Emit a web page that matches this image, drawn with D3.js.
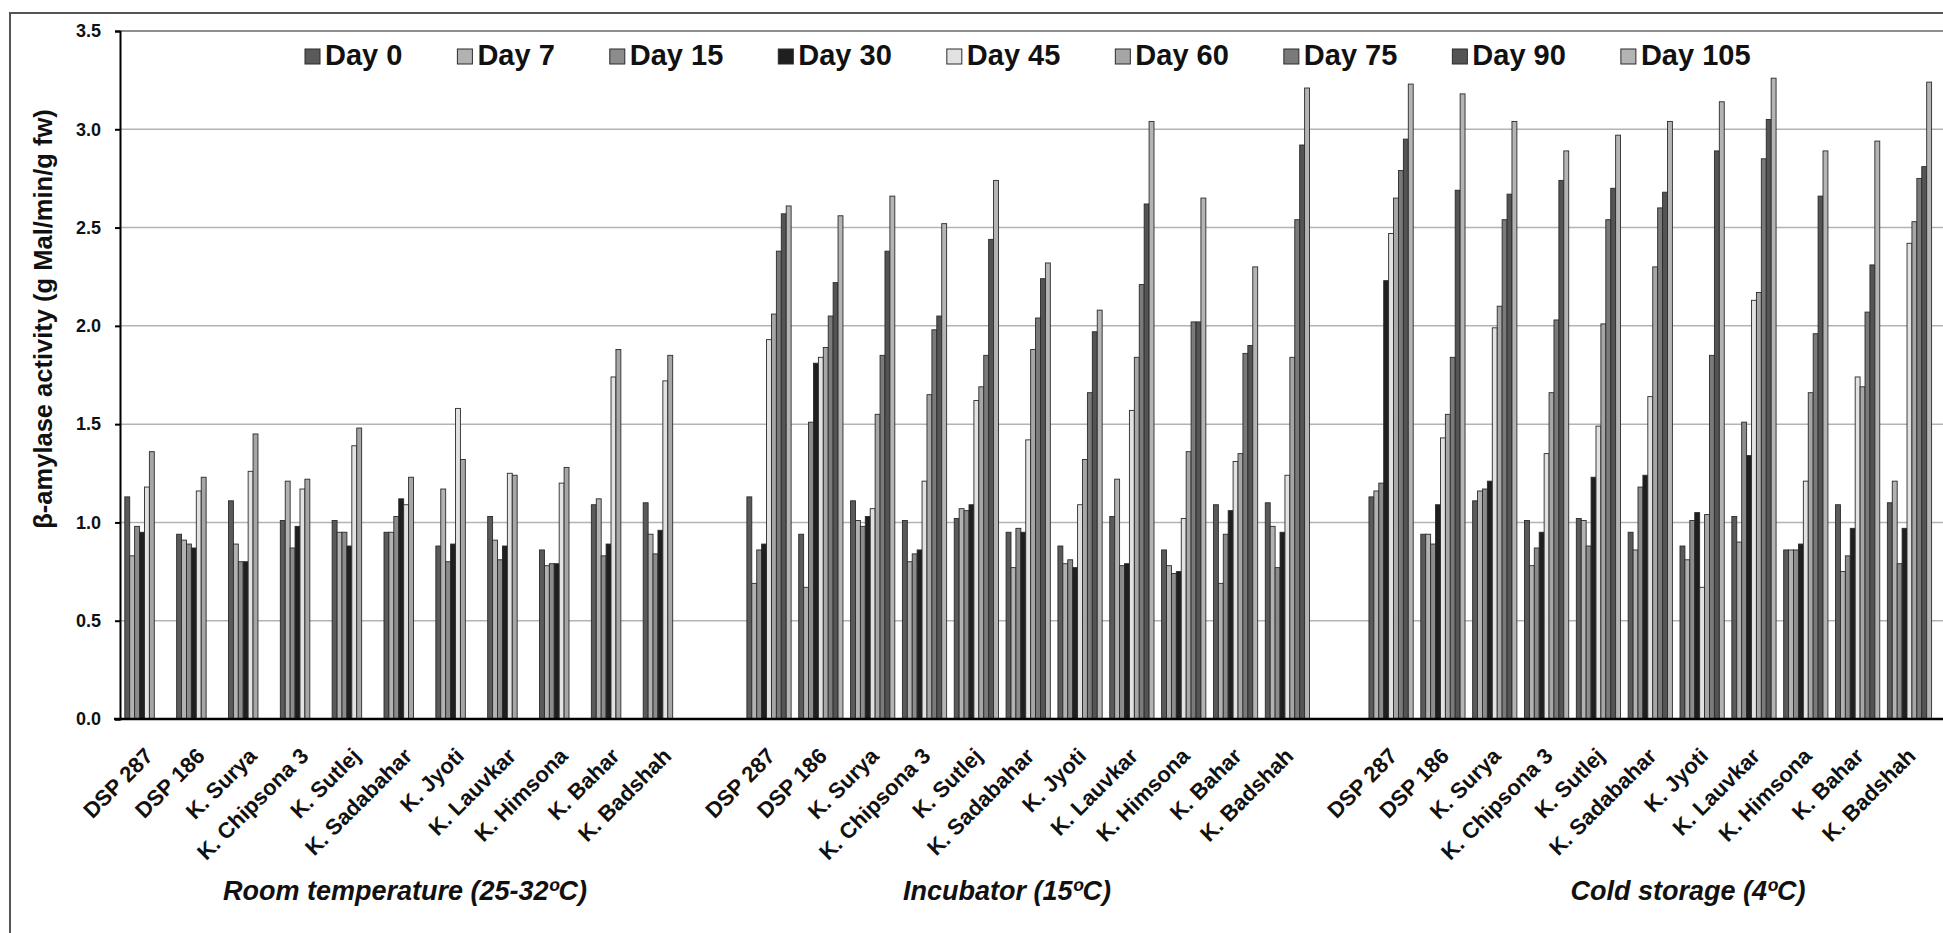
<!DOCTYPE html>
<html>
<head>
<meta charset="utf-8">
<script src="https://cdn.jsdelivr.net/npm/d3@7"></script>
<style>
  html, body { margin: 0; padding: 0; background: #fff; overflow: hidden; }
  svg { display: block; }
</style>
</head>
<body>
<svg id="chart" width="1943" height="933"></svg>
<script>
// ---------------- DATA ----------------
const varieties = ["DSP 287", "DSP 186", "K. Surya", "K. Chipsona 3", "K. Sutlej", "K. Sadabahar",
                   "K. Jyoti", "K. Lauvkar", "K. Himsona", "K. Bahar", "K. Badshah"];
const days = ["Day 0", "Day 7", "Day 15", "Day 30", "Day 45", "Day 60", "Day 75", "Day 90", "Day 105"];
const conditions = ["Room temperature (25-32ºC)", "Incubator (15ºC)", "Cold storage (4ºC)"];
const yTicks = [0, 0.5, 1.0, 1.5, 2.0, 2.5, 3.0, 3.5];
const yLabel = "β-amylase activity (g Mal/min/g fw)";

// Room temperature: Day 0 .. Day 60 only
const roomTemp = [
  [1.13, 0.83, 0.98, 0.95, 1.18, 1.36],
  [0.94, 0.91, 0.89, 0.87, 1.16, 1.23],
  [1.11, 0.89, 0.80, 0.80, 1.26, 1.45],
  [1.01, 1.21, 0.87, 0.98, 1.17, 1.22],
  [1.01, 0.95, 0.95, 0.88, 1.39, 1.48],
  [0.95, 0.95, 1.03, 1.12, 1.09, 1.23],
  [0.88, 1.17, 0.80, 0.89, 1.58, 1.32],
  [1.03, 0.91, 0.81, 0.88, 1.25, 1.24],
  [0.86, 0.78, 0.79, 0.79, 1.20, 1.28],
  [1.09, 1.12, 0.83, 0.89, 1.74, 1.88],
  [1.10, 0.94, 0.84, 0.96, 1.72, 1.85]
];
const incubator = [
  [1.13, 0.69, 0.86, 0.89, 1.93, 2.06, 2.38, 2.57, 2.61],
  [0.94, 0.67, 1.51, 1.81, 1.84, 1.89, 2.05, 2.22, 2.56],
  [1.11, 1.01, 0.98, 1.03, 1.07, 1.55, 1.85, 2.38, 2.66],
  [1.01, 0.80, 0.84, 0.86, 1.21, 1.65, 1.98, 2.05, 2.52],
  [1.02, 1.07, 1.06, 1.09, 1.62, 1.69, 1.85, 2.44, 2.74],
  [0.95, 0.77, 0.97, 0.95, 1.42, 1.88, 2.04, 2.24, 2.32],
  [0.88, 0.79, 0.81, 0.77, 1.09, 1.32, 1.66, 1.97, 2.08],
  [1.03, 1.22, 0.78, 0.79, 1.57, 1.84, 2.21, 2.62, 3.04],
  [0.86, 0.78, 0.74, 0.75, 1.02, 1.36, 2.02, 2.02, 2.65],
  [1.09, 0.69, 0.94, 1.06, 1.31, 1.35, 1.86, 1.90, 2.30],
  [1.10, 0.98, 0.77, 0.95, 1.24, 1.84, 2.54, 2.92, 3.21]
];
const coldStorage = [
  [1.13, 1.16, 1.20, 2.23, 2.47, 2.65, 2.79, 2.95, 3.23],
  [0.94, 0.94, 0.89, 1.09, 1.43, 1.55, 1.84, 2.69, 3.18],
  [1.11, 1.16, 1.17, 1.21, 1.99, 2.10, 2.54, 2.67, 3.04],
  [1.01, 0.78, 0.87, 0.95, 1.35, 1.66, 2.03, 2.74, 2.89],
  [1.02, 1.01, 0.88, 1.23, 1.49, 2.01, 2.54, 2.70, 2.97],
  [0.95, 0.86, 1.18, 1.24, 1.64, 2.30, 2.60, 2.68, 3.04],
  [0.88, 0.81, 1.01, 1.05, 0.67, 1.04, 1.85, 2.89, 3.14],
  [1.03, 0.90, 1.51, 1.34, 2.13, 2.17, 2.85, 3.05, 3.26],
  [0.86, 0.86, 0.86, 0.89, 1.21, 1.66, 1.96, 2.66, 2.89],
  [1.09, 0.75, 0.83, 0.97, 1.74, 1.69, 2.07, 2.31, 2.94],
  [1.10, 1.21, 0.79, 0.97, 2.42, 2.53, 2.75, 2.81, 3.24]
];
const conditionValues = [roomTemp, incubator, coldStorage];

// ---------------- STYLE ----------------
const dayColors = ["#5a5a5a", "#b2b2b2", "#8c8c8c", "#1f1f1f", "#e2e2e2", "#a6a6a6", "#7a7a7a", "#545454", "#b4b4b4"];
const FONT = "'Liberation Sans', Arial, sans-serif";

// ---------------- LAYOUT ----------------
const svg = d3.select("#chart");
const plotLeft = 121, plotTop = 31, plotBottom = 719;
const pitch = 51.84;
const halfGap = 3.8;

// category slots: 11 varieties + one blank slot per storage condition
const slots = [];
conditions.forEach((c, ci) => {
  varieties.forEach((v, vi) => slots.push({key: ci + "|" + vi, label: v}));
  slots.push({key: ci + "|blank", label: ""});
});

const x0 = d3.scaleBand().domain(slots.map(s => s.key))
  .range([plotLeft, plotLeft + slots.length * pitch]).paddingInner(0).paddingOuter(0);
const x1 = d3.scaleBand().domain(days).range([halfGap, pitch - halfGap]).padding(0);
const y = d3.scaleLinear().domain([0, 3.5]).range([plotBottom, plotTop]);

// outer frame
svg.append("rect").attr("x", 10).attr("y", 13).attr("width", 2100).attr("height", 1100)
  .attr("fill", "none").attr("stroke", "#555").attr("stroke-width", 2);

// gridlines
svg.append("g").selectAll("line").data(yTicks.filter(t => t > 0)).join("line")
  .attr("x1", plotLeft).attr("x2", 2000)
  .attr("y1", d => y(d)).attr("y2", d => y(d))
  .attr("stroke", d => d === 3.5 ? "#6a6a6a" : "#b3b3b3")
  .attr("stroke-width", 1.5);

// bars
const barData = [];
conditionValues.forEach((rows, ci) => {
  rows.forEach((vals, vi) => {
    vals.forEach((v, di) => {
      if (v != null) barData.push({ci, vi, di, v});
    });
  });
});
svg.append("g").selectAll("rect").data(barData).join("rect")
  .attr("x", d => x0(d.ci + "|" + d.vi) + x1(days[d.di]))
  .attr("width", x1.bandwidth())
  .attr("y", d => y(d.v))
  .attr("height", d => y(0) - y(d.v))
  .attr("fill", d => dayColors[d.di])
  .attr("stroke", "#2b2b2b")
  .attr("stroke-width", 0.9);

// y axis
const yAxis = svg.append("g").attr("transform", `translate(120,0)`)
  .call(d3.axisLeft(y).tickValues(yTicks).tickFormat(d3.format(".1f")).tickSize(5).tickPadding(14));
yAxis.select(".domain").attr("stroke", "#000").attr("stroke-width", 2);
yAxis.selectAll(".tick line").attr("stroke", "#000").attr("stroke-width", 2);
yAxis.selectAll(".tick text").attr("font-family", FONT).attr("font-weight", "bold")
  .attr("font-size", 18).attr("fill", "#111");

// x axis (category labels)
const labelOf = Object.fromEntries(slots.map(s => [s.key, s.label]));
const xAxis = svg.append("g").attr("transform", `translate(0,${plotBottom})`)
  .call(d3.axisBottom(x0).tickFormat(k => labelOf[k]).tickSize(0));
xAxis.select(".domain").remove();
xAxis.selectAll(".tick text")
  .attr("font-family", FONT).attr("font-weight", "bold").attr("font-size", 22).attr("fill", "#111")
  .attr("text-anchor", "end").attr("x", 0).attr("y", 0).attr("dy", "0.35em")
  .attr("transform", "translate(2,33) rotate(-45)");
svg.append("line").attr("x1", 114).attr("x2", 2000).attr("y1", plotBottom).attr("y2", plotBottom)
  .attr("stroke", "#000").attr("stroke-width", 2.5);

// y axis title
svg.append("text").attr("transform", "translate(43,319) rotate(-90)")
  .attr("text-anchor", "middle").attr("dy", "0.35em")
  .attr("font-family", FONT).attr("font-weight", "bold").attr("font-size", 25.5).attr("fill", "#111")
  .text(yLabel);

// storage condition labels
const condCenters = [405, 1007, 1688];
svg.append("g").selectAll("text").data(conditions).join("text")
  .attr("x", (d, i) => condCenters[i]).attr("y", 900)
  .attr("text-anchor", "middle")
  .attr("font-family", FONT).attr("font-weight", "bold").attr("font-style", "italic")
  .attr("font-size", 27).attr("fill", "#111")
  .text(d => d);

// legend
const legend = svg.append("g");
let lx = 305;
days.forEach((d, i) => {
  legend.append("rect").attr("x", lx).attr("y", 49).attr("width", 15).attr("height", 15)
    .attr("fill", dayColors[i]).attr("stroke", "#2b2b2b").attr("stroke-width", 1);
  const t = legend.append("text").attr("x", lx + 20).attr("y", 65)
    .attr("font-family", FONT).attr("font-weight", "bold").attr("font-size", 29).attr("fill", "#111")
    .text(d);
  lx = lx + 20 + t.node().getComputedTextLength() + 55;
});
</script>
</body>
</html>
